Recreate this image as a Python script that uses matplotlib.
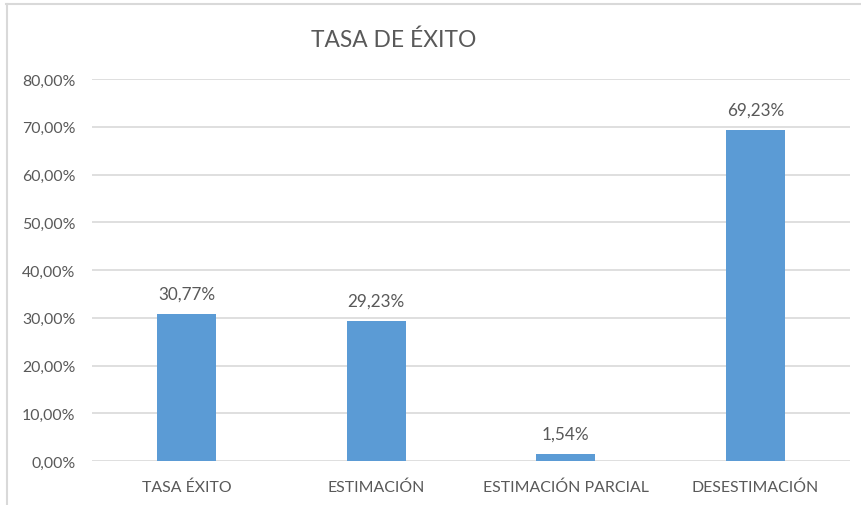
import matplotlib
matplotlib.use("Agg")
import matplotlib.pyplot as plt
from matplotlib.lines import Line2D

categories = ["TASA ÉXITO", "ESTIMACIÓN", "ESTIMACIÓN PARCIAL", "DESESTIMACIÓN"]
values = [30.77, 29.23, 1.54, 69.23]
yticks = [0, 10, 20, 30, 40, 50, 60, 70, 80]

plt.rcParams['font.family'] = ['Lato', 'DejaVu Sans']
W, H = 861, 506
fig = plt.figure(figsize=(W/100, H/100), dpi=100)
ax = fig.add_axes([92/W, (H-462)/H, (850-92)/W, (462-80)/H])

x = list(range(len(categories)))
ax.bar(x, values, width=0.31, color="#5B9BD5", zorder=3)
for xi, v in zip(x, values):
    ax.annotate(f"{v:.2f}".replace(".", ",") + "%", (xi, v), xytext=(0, 9),
                textcoords="offset points", ha="center", va="bottom",
                fontsize=12.3, color="#595959")

ax.set_xlim(-0.5, len(categories) - 0.5)
ax.set_ylim(0, 80)
ax.set_yticks(yticks)
ax.set_yticklabels([f"{t:.2f}".replace(".", ",") + "%" for t in yticks])
ax.set_xticks(x)
ax.set_xticklabels(categories)
ax.tick_params(axis="both", length=0, colors="#595959", labelsize=11.4)
ax.tick_params(axis="y", pad=12)
ax.tick_params(axis="x", pad=13)
ax.grid(axis="y", color="#D9D9D9", linewidth=1.2, zorder=0)
for s in ax.spines.values():
    s.set_visible(False)

fig.text(394/W, 1 - 40/H, "TASA DE ÉXITO", ha="center", va="center", fontsize=16.4, color="#595959")

# chart border (top and left)
fig.add_artist(Line2D([6/W, 1], [1 - 4.5/H, 1 - 4.5/H], transform=fig.transFigure, color="#D9D9D9", linewidth=1.5))
fig.add_artist(Line2D([6.5/W, 6.5/W], [0, 1 - 4.5/H], transform=fig.transFigure, color="#D9D9D9", linewidth=1.5))

fig.savefig("out.png", dpi=100, facecolor="white")
